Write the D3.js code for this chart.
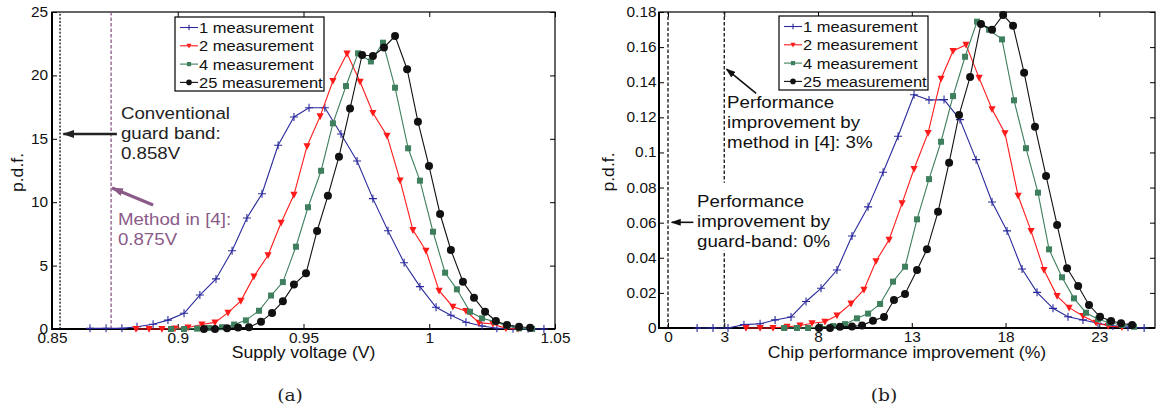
<!DOCTYPE html>
<html>
<head>
<meta charset="utf-8">
<script src="https://cdn.jsdelivr.net/npm/d3@7"></script>
<style>
body { margin: 0; background: #fff; }
svg { display: block; font-family: "Liberation Sans", Arial, Helvetica, sans-serif; }
</style>
</head>
<body>
<svg></svg>
<script>
// ---- panel (a): supply voltage (V) vs p.d.f.
const volt1 = [0.8651,0.8715,0.8778,0.8838,0.8902,0.8961,0.9025,0.9088,0.9152,0.9216,0.9275,0.9335,0.9399,0.9462,0.9522,0.9585,0.9649,0.9713,0.9776,0.9836,0.9900,0.9963,1.0027,1.0086,1.0146,1.0210,1.0269,1.0333,1.0393,1.0456];
const pdf1  = [0.05,0.05,0.05,0.18,0.37,0.7,1.24,2.68,3.95,6.17,8.75,10.67,14.49,16.72,17.45,17.45,15.38,13.25,10.28,7.75,5.23,3.34,1.71,1.08,0.53,0.24,0.06,0.02,0.01,0];
const volt2 = [0.8834,0.8886,0.8937,0.8989,0.9041,0.9096,0.9148,0.9200,0.9251,0.9303,0.9359,0.9411,0.9462,0.9514,0.9566,0.9617,0.9673,0.9725,0.9776,0.9832,0.9884,0.9935,0.9987,1.0039,1.0094,1.0146,1.0198,1.0253,1.0305,1.0353];
const pdf2  = [0,0,0,0.04,0.12,0.35,0.52,1.29,2.22,4.15,5.82,8.38,10.58,14.42,16.77,19.56,21.72,19.5,17.03,15.25,11.72,7.8,6.17,3.02,1.76,1.42,0.5,0.39,0.05,0];
const volt4 = [0.8973,0.9025,0.9077,0.9124,0.9176,0.9224,0.9271,0.9323,0.9371,0.9418,0.9470,0.9518,0.9570,0.9617,0.9669,0.9717,0.9768,0.9816,0.9864,0.9916,0.9963,1.0015,1.0063,1.0110,1.0162,1.0210,1.0261,1.0309,1.0357,1.0409];
const pdf4  = [0,0,0.03,0.08,0.14,0.35,0.68,1.44,2.64,3.7,6.49,9.6,12.48,16.22,19.16,21.74,21.1,22.58,19.03,14.25,11.7,7.67,4.44,3.13,1.36,0.84,0.58,0.24,0.05,0];
const volt25 = [0.9104,0.9148,0.9196,0.9240,0.9283,0.9331,0.9375,0.9418,0.9462,0.9510,0.9554,0.9597,0.9641,0.9685,0.9733,0.9776,0.9820,0.9864,0.9912,0.9955,0.9999,1.0043,1.0086,1.0134,1.0178,1.0222,1.0265,1.0309,1.0357,1.0401];
const pdf25  = [0,0,0.05,0.11,0.13,0.58,1.27,2.18,3.5,4.39,7.73,10.5,13.59,17.38,21.61,21.53,22.2,23.1,20.49,16.35,12.85,9.07,6.23,3.73,2.47,1.36,0.63,0.32,0.18,0.1];

// ---- panel (b): chip performance improvement (%) vs p.d.f.
const perf1 = [1.55,2.40,3.20,4.05,4.91,5.71,6.56,7.36,8.16,9.01,9.81,10.67,11.47,12.27,13.12,13.92,14.72,15.57,16.43,17.28,18.08,18.88,19.68,20.53,21.33,22.13,22.93,23.73,24.53,25.39];
const dens1 = [0,0,0,0.0019,0.0024,0.0046,0.0063,0.0151,0.0226,0.033,0.0524,0.069,0.0887,0.1092,0.1329,0.1299,0.1301,0.1187,0.0959,0.0718,0.0553,0.0336,0.0203,0.0112,0.0064,0.0046,0.0027,0.0011,0.0004,0];
const perf2 = [4.16,4.91,5.60,6.35,7.04,7.68,8.37,9.01,9.76,10.45,11.09,11.79,12.48,13.12,13.87,14.56,15.20,15.89,16.59,17.28,17.97,18.67,19.36,20.05,20.75,21.39,22.13,22.83,23.47,24.21];
const dens2 = [0,0,0,0.0007,0.0014,0.0027,0.0036,0.0071,0.0139,0.0218,0.038,0.0503,0.071,0.0906,0.1111,0.142,0.1578,0.1614,0.1425,0.1246,0.111,0.0753,0.0553,0.033,0.0182,0.0116,0.0068,0.003,0.0011,0.0004];
const perf4 = [6.19,6.88,7.47,8.11,8.80,9.44,10.08,10.67,11.31,12.00,12.64,13.28,13.92,14.56,15.20,15.84,16.48,17.12,17.81,18.45,19.09,19.73,20.32,21.01,21.65,22.29,22.93,23.52,24.21,24.85];
const dens4 = [0,0,0,0.0007,0.0011,0.0022,0.0055,0.0082,0.0137,0.0264,0.0349,0.0619,0.0848,0.1061,0.1321,0.1545,0.1745,0.1699,0.1644,0.1297,0.1024,0.0771,0.0448,0.0289,0.0169,0.0087,0.005,0.003,0.0017,0.0007];
const perf25 = [8.05,8.64,9.17,9.81,10.35,10.93,11.52,12.05,12.64,13.28,13.81,14.40,14.99,15.52,16.11,16.69,17.28,17.87,18.40,18.99,19.57,20.16,20.75,21.28,21.87,22.45,23.04,23.63,24.16,24.75];
const dens25 = [0,0,0.0007,0.0009,0.0014,0.0042,0.0062,0.0159,0.0194,0.033,0.0448,0.0662,0.0942,0.1213,0.143,0.1732,0.1699,0.1783,0.1721,0.1454,0.1147,0.0866,0.0587,0.034,0.0239,0.0131,0.0064,0.004,0.0027,0.0017];

const seriesNames = ['1 measurement', '2 measurement', '4 measurement', '25 measurement'];
const seriesColors = ['#2a2a9c', '#ff1a1a', '#3e7f5e', '#111111'];
const seriesMarks = ['plus', 'tri', 'square', 'dot'];

const voltTicks = [0.85, 0.9, 0.95, 1, 1.05];
const pdfTicksA = [0, 5, 10, 15, 20, 25];
const perfTicks = [0, 3, 8, 13, 18, 23];
const pdfTicksB = [0, 0.02, 0.04, 0.06, 0.08, 0.1, 0.12, 0.14, 0.16, 0.18];

// guard lines and notes
const guardA = [0.8532, 0.8735];   // conventional, method in [4]
const guardB = [0, 3];
const notesA = [
  {lines: ['Conventional', 'guard band:', '0.858V'], at: [0.8774, 16.56], color: '#222'},
  {lines: ['Method in [4]:', '0.875V'], at: [0.8762, 8.2], color: '#8b5a88'}
];
const arrowsA = [
  {from: [0.8758, 15.38], to: [0.8545, 15.38], color: '#222', w: 2.6},
  {from: [0.8902, 9.78], to: [0.8739, 11.12], color: '#8b5a88', w: 3}
];
const notesB = [
  {lines: ['Performance', 'improvement by', 'method in [4]: 3%'], at: [3.15, 0.1253], color: '#111'},
  {lines: ['Performance', 'improvement by', 'guard-band: 0%'], at: [1.55, 0.0689], color: '#111', boxed: true}
];
const arrowsB = [
  {from: [4.7, 0.1337], to: [3.12, 0.1475], color: '#111', w: 1.6},
  {from: [1.35, 0.0602], to: [0.2, 0.0602], color: '#111', w: 1.6}
];

const svg = d3.select('svg').attr('width', 1157).attr('height', 412);
const defs = svg.append('defs');
const SX = 1.1; // source text is a little wide

function squeeze(sel, extra) {
  sel.each(function () {
    const t = d3.select(this);
    const x = +t.attr('x') || 0, y = +t.attr('y') || 0;
    t.attr('x', 0).attr('y', 0)
     .attr('transform', `translate(${x},${y})${extra || ''} scale(${SX},1)`);
  });
}

let headId = 0;
function arrowHead(color, len, wid) {
  const id = 'head' + (headId++);
  defs.append('marker').attr('id', id)
    .attr('markerUnits', 'userSpaceOnUse')
    .attr('viewBox', `0 0 ${len} ${wid}`)
    .attr('markerWidth', len).attr('markerHeight', wid)
    .attr('refX', len - 1).attr('refY', wid / 2).attr('orient', 'auto')
    .append('path').attr('d', `M0,0L${len},${wid / 2}L0,${wid}Z`).attr('fill', color);
  return id;
}

function mark(sel, kind, color, s) {
  if (kind === 'plus') {
    sel.append('path').attr('d', `M${-4 * s},0H${4 * s}M0,${-4 * s}V${4 * s}`)
      .attr('stroke', color).attr('stroke-width', 1.1).attr('fill', 'none');
  } else if (kind === 'tri') {
    sel.append('path').attr('d', `M${-3.6 * s},${-3 * s}H${3.6 * s}L0,${3.8 * s}Z`).attr('fill', color);
  } else if (kind === 'square') {
    sel.append('rect').attr('x', -3 * s).attr('y', -3 * s).attr('width', 6 * s).attr('height', 6 * s).attr('fill', color);
  } else {
    sel.append('circle').attr('r', 4 * s).attr('fill', color);
  }
}

function drawPanel(o) {
  const x = d3.scaleLinear().domain(o.xDomain).range([o.left, o.right]);
  const y = d3.scaleLinear().domain(o.yDomain).range([o.bottom, o.top]);
  const g = svg.append('g');

  // axes, ticks pointing inward on all four sides
  const fmt = d => String(d);
  const ax = [
    [d3.axisBottom(x).tickValues(o.xTicks).tickFormat(fmt).tickPadding(4), `translate(0,${o.bottom})`],
    [d3.axisTop(x).tickValues(o.xTicks).tickFormat(''), `translate(0,${o.top})`],
    [d3.axisLeft(y).tickValues(o.yTicks).tickFormat(fmt).tickPadding(o.yPad), `translate(${o.left},0)`],
    [d3.axisRight(y).tickValues(o.yTicks).tickFormat(''), `translate(${o.right},0)`]
  ];
  ax.forEach(([a, tr]) => {
    const ag = g.append('g').attr('transform', tr)
      .call(a.tickSize(-5).tickSizeOuter(0))
      .attr('font-family', null).attr('font-size', null);
    ag.select('.domain').remove();
    ag.selectAll('line').attr('stroke', '#000');
    ag.selectAll('text').attr('font-size', 14).attr('fill', '#111').call(squeeze);
  });

  g.append('rect').attr('x', o.left).attr('y', o.top)
    .attr('width', o.right - o.left).attr('height', o.bottom - o.top)
    .attr('fill', 'none').attr('stroke', '#000').attr('stroke-width', 1.2);
  g.append('path').attr('d', `M${o.left},${o.top}V${o.bottom}H${o.right}`)
    .attr('fill', 'none').attr('stroke', '#000').attr('stroke-width', 2);

  // guard lines
  o.guards.forEach(gd => {
    g.append('line').attr('x1', x(gd.v)).attr('x2', x(gd.v))
      .attr('y1', y(o.yDomain[0])).attr('y2', y(o.yDomain[1]))
      .attr('stroke', gd.color).attr('stroke-width', 1.3).attr('stroke-dasharray', gd.dash);
  });

  // series
  const line = d3.line().x(d => x(d[0])).y(d => y(d[1]));
  o.xs.forEach((xs, i) => {
    const pts = xs.map((v, j) => [v, o.ys[i][j]]);
    g.append('path').datum(pts).attr('d', line)
      .attr('fill', 'none').attr('stroke', seriesColors[i]).attr('stroke-width', 1.1);
    g.append('g').selectAll('g').data(pts).join('g')
      .attr('transform', d => `translate(${x(d[0])},${y(d[1])})`)
      .each(function () { mark(d3.select(this), seriesMarks[i], seriesColors[i], 1); });
  });

  // notes
  o.notes.forEach(n => {
    const ng = g.append('g');
    n.lines.forEach((s, k) => {
      ng.append('text').attr('x', x(n.at[0])).attr('y', y(n.at[1]) + k * 20)
        .attr('font-size', 17).attr('fill', n.color).text(s);
    });
    ng.selectAll('text').call(squeeze);
    if (n.boxed) {
      const b = ng.node().getBBox();
      ng.insert('rect', 'text').attr('x', b.x - 3).attr('y', b.y - 9)
        .attr('width', b.width + 6).attr('height', b.height + 9).attr('fill', '#fff');
    }
  });
  o.arrows.forEach(a => {
    const id = arrowHead(a.color, a.w > 2 ? 12 : 10, a.w > 2 ? 8 : 7);
    g.append('line')
      .attr('x1', x(a.from[0])).attr('y1', y(a.from[1]))
      .attr('x2', x(a.to[0])).attr('y2', y(a.to[1]))
      .attr('stroke', a.color).attr('stroke-width', a.w)
      .attr('marker-end', `url(#${id})`);
  });

  // legend
  const lg = g.append('g').attr('transform', `translate(${o.legend[0]},${o.legend[1]})`);
  lg.append('rect').attr('width', 149).attr('height', 74)
    .attr('fill', '#fff').attr('stroke', '#000').attr('stroke-width', 1.2);
  seriesNames.forEach((s, i) => {
    const row = lg.append('g').attr('transform', `translate(0,${10.5 + i * 18.3})`);
    row.append('line').attr('x1', 5).attr('x2', 23)
      .attr('stroke', seriesColors[i]).attr('stroke-width', 1.1);
    const m = row.append('g').attr('transform', 'translate(14,0)');
    mark(m, seriesMarks[i], seriesColors[i], 0.7);
    row.append('text').attr('x', 24).attr('y', 5.5).attr('font-size', 15)
      .attr('fill', '#111').text(s).call(squeeze);
  });

  // axis titles
  g.append('text').attr('x', (o.left + o.right) / 2).attr('y', 358)
    .attr('text-anchor', 'middle').attr('font-size', 16).attr('fill', '#111')
    .text(o.xLabel).call(squeeze);
  g.append('text').attr('x', o.yLabelX).attr('y', (o.top + o.bottom) / 2 + 2)
    .attr('text-anchor', 'middle').attr('font-size', 16).attr('fill', '#111')
    .text('p.d.f.').call(squeeze, ' rotate(-90)');
  g.append('text').attr('x', o.tag[0]).attr('y', 401)
    .attr('text-anchor', 'middle').attr('font-size', 17).attr('fill', '#222')
    .attr('font-family', '"DejaVu Serif", "Liberation Serif", serif')
    .text(o.tag[1]).call(squeeze);
}

drawPanel({
  left: 52, right: 555, top: 12, bottom: 329,
  xDomain: [0.85, 1.05], yDomain: [0, 25],
  xTicks: voltTicks, yTicks: pdfTicksA, yPad: 4,
  xs: [volt1, volt2, volt4, volt25], ys: [pdf1, pdf2, pdf4, pdf25],
  guards: [
    {v: guardA[0], color: '#111', dash: '2,1.6'},
    {v: guardA[1], color: '#8b5a88', dash: '3.5,2'}
  ],
  notes: notesA, arrows: arrowsA,
  legend: [175, 17],
  xLabel: 'Supply voltage (V)', yLabelX: 23, tag: [290, '(a)']
});

drawPanel({
  left: 659, right: 1155, top: 12, bottom: 328,
  xDomain: [-0.48, 25.97], yDomain: [0, 0.18],
  xTicks: perfTicks, yTicks: pdfTicksB, yPad: 2.5,
  xs: [perf1, perf2, perf4, perf25], ys: [dens1, dens2, dens4, dens25],
  guards: [
    {v: guardB[0], color: '#111', dash: '3.5,2'},
    {v: guardB[1], color: '#111', dash: '3.5,2'}
  ],
  notes: notesB, arrows: arrowsB,
  legend: [779, 16],
  xLabel: 'Chip performance improvement (%)', yLabelX: 614, tag: [884, '(b)']
});
</script>
</body>
</html>
